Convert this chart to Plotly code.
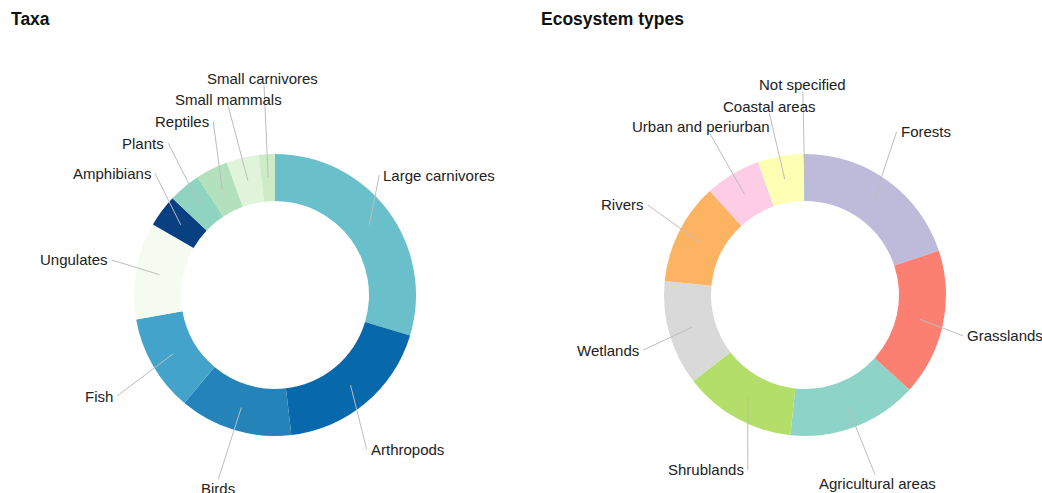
import math
import plotly.graph_objects as go

W, H = 1042, 493

# --- data -------------------------------------------------------------
taxa_labels = ["Large carnivores", "Arthropods", "Birds", "Fish", "Ungulates",
               "Amphibians", "Plants", "Reptiles", "Small mammals", "Small carnivores"]
taxa_counts = [16, 10, 7, 6, 6, 2, 2, 2, 2, 1]

eco_labels = ["Forests", "Grasslands", "Agricultural areas", "Shrublands", "Wetlands",
              "Rivers", "Urban and periurban", "Coastal areas", "Not specified"]
eco_share = [19.9, 16.8, 14.9, 12.9, 12.0, 11.6, 6.4, 5.3, 0.1]

# --- styling ----------------------------------------------------------
taxa_colors = ["#69c0ca", "#0868ac", "#2484ba", "#43a3cb", "#f5fbef",
               "#084081", "#8fd4c0", "#b3e1be", "#e0f3db", "#cdebc5"]
eco_colors = ["#bebada", "#fb8072", "#8dd3c7", "#b3de69", "#d9d9d9",
              "#fdb462", "#fccde5", "#ffffb3", "#80b1d3"]

FONT = "Liberation Sans, Arial, sans-serif"
R_OUT, R_IN = 141, 94
R_MID = (R_OUT + R_IN) / 2

# label placement: (angle clockwise from 12 o'clock, distance from centre, side, extra x shift)
taxa_label_pos = [(41.0, 159, "start", 0), (149.3, 179.5, "start", 0), (197.1, 192.8, "below", 0),
                  (237.4, 187.5, "end", 0), (282.1, 167, "end", 0), (315.4, 171, "end", 0),
                  (324.9, 185.5, "end", 0), (340.4, 184, "end", 0), (346.1, 194, "above", 0),
                  (357.0, 210, "above", -2)]
eco_label_pos = [(29.3, 187.3, "start", 0), (104.5, 163.5, "start", 0), (158.7, 193.1, "below", 2),
                 (198.1, 184.1, "end", 0), (251.2, 171, "end", 0), (299.8, 181.2, "end", 0),
                 (329.5, 187, "above", -9), (348.9, 185.2, "above", 0), (359.4, 203.3, "above", 0)]

charts = [
    dict(title="Taxa", title_x=10, cx=275, cy=295, labels=taxa_labels, values=taxa_counts,
         colors=taxa_colors, placement=taxa_label_pos),
    dict(title="Ecosystem types", title_x=540, cx=805, cy=295, labels=eco_labels, values=eco_share,
         colors=eco_colors, placement=eco_label_pos),
]


def px(x):
    return x / W


def py(y):
    return 1 - y / H


def polar(cx, cy, ang, r):
    a = math.radians(ang)
    return cx + r * math.sin(a), cy - r * math.cos(a)


fig = go.Figure()
shapes, annotations = [], []

for ch in charts:
    cx, cy = ch["cx"], ch["cy"]
    fig.add_trace(go.Pie(
        labels=ch["labels"], values=ch["values"], sort=False, direction="clockwise",
        rotation=0, hole=R_IN / R_OUT, textinfo="none", hoverinfo="label+value+percent",
        marker=dict(colors=ch["colors"], line=dict(width=0)), showlegend=False,
        domain=dict(x=[px(cx - R_OUT), px(cx + R_OUT)], y=[py(cy + R_OUT), py(cy - R_OUT)]),
    ))

    annotations.append(dict(
        text="<b>%s</b>" % ch["title"], x=px(ch["title_x"]), y=py(19), xref="paper", yref="paper",
        xanchor="left", yanchor="middle", showarrow=False, borderpad=0,
        font=dict(family=FONT, size=17.5, color="#111111"),
    ))

    total = float(sum(ch["values"]))
    cum = 0.0
    for lab, val, (ang, dist, side, dx) in zip(ch["labels"], ch["values"], ch["placement"]):
        mid = 360.0 * (cum + val / 2.0) / total
        cum += val
        x0, y0 = polar(cx, cy, mid, R_MID)
        x1, y1 = polar(cx, cy, ang, dist)
        shapes.append(dict(type="line", xref="paper", yref="paper", layer="above",
                           x0=px(x0), y0=py(y0), x1=px(x1), y1=py(y1),
                           line=dict(color="#bdbdbd", width=1)))
        ann = dict(text=lab, x=px(x1), y=py(y1), xref="paper", yref="paper", showarrow=False,
                   yanchor="middle", borderpad=0, font=dict(family=FONT, size=15, color="#222222"))
        if side == "start":
            ann.update(xanchor="left", xshift=3 + dx)
        elif side == "end":
            ann.update(xanchor="right", xshift=-3 + dx)
        elif side == "above":
            ann.update(xanchor="center", xshift=dx, yshift=7)
        else:
            ann.update(xanchor="center", xshift=dx, yshift=-9)
        annotations.append(ann)

fig.update_layout(
    width=W, height=H, margin=dict(l=0, r=0, t=0, b=0),
    paper_bgcolor="white", plot_bgcolor="white",
    shapes=shapes, annotations=annotations,
)

fig.write_html("out.html")
